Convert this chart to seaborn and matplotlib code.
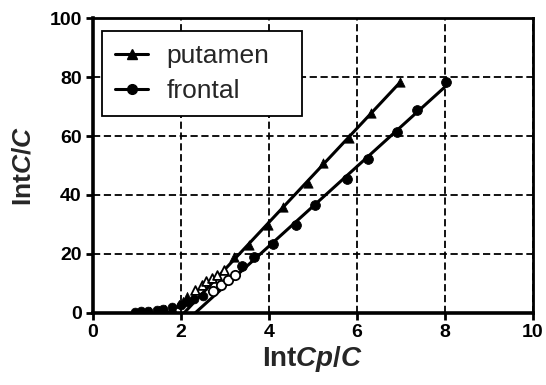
import numpy as np
import pandas as pd
import matplotlib
matplotlib.use("Agg")
import matplotlib.pyplot as plt
import seaborn as sns
from matplotlib.lines import Line2D

# ---- data ----
put_x = [3.20, 3.56, 3.97, 4.33, 4.88, 5.24, 5.81, 6.33, 6.97]
put_y = [18.9, 23.1, 29.7, 36.0, 44.1, 50.7, 59.5, 68.0, 78.3]
put_open_x = [2.32, 2.47, 2.58, 2.71, 2.83, 2.98]
put_open_y = [7.7, 9.5, 10.6, 11.7, 12.9, 14.6]
put_early_x = [1.30, 1.50, 1.65, 1.80, 1.95, 2.05, 2.15]
put_early_y = [0.4, 0.9, 1.4, 2.0, 3.0, 4.0, 5.5]

fro_x = [3.38, 3.67, 4.09, 4.62, 5.05, 5.77, 6.26, 6.91, 7.37, 8.03]
fro_y = [15.7, 18.8, 23.4, 29.8, 36.5, 45.5, 52.3, 61.4, 68.8, 78.5]
fro_open_x = [2.73, 2.92, 3.07, 3.22]
fro_open_y = [7.2, 9.5, 11.2, 12.9]
fro_early_x = [0.95, 1.10, 1.25, 1.45, 1.60, 1.80, 2.00, 2.15, 2.30, 2.50]
fro_early_y = [0.3, 0.4, 0.6, 1.0, 1.3, 1.8, 2.5, 3.5, 4.5, 5.5]

x_ticks = [0, 2, 4, 6, 8, 10]
y_ticks = [0, 20, 40, 60, 80, 100]
series_names = ["putamen", "frontal"]

sns.set_style("ticks")
plt.rcParams['font.family'] = ['Liberation Sans', 'DejaVu Sans']
plt.rcParams['mathtext.fontset'] = 'custom'
plt.rcParams['mathtext.it'] = 'Liberation Sans:italic:bold'
plt.rcParams['mathtext.rm'] = 'Liberation Sans:bold'
plt.rcParams['mathtext.bf'] = 'Liberation Sans:bold'

fig = plt.figure(figsize=(5.46, 3.85), dpi=100)
ax = fig.add_axes([0.170, 0.188, 0.806, 0.764])

# regression lines (fit on the filled linear-phase points)
def fit_line(xs, ys):
    k, b = np.polyfit(xs, ys, 1)
    x0 = -b / k
    lx = [x0, max(xs)]
    ly = [k * v + b for v in lx]
    df = pd.DataFrame({"x": lx, "y": ly})
    sns.lineplot(data=df, x="x", y="y", ax=ax, color="black", lw=2.2,
                 legend=False, zorder=3)

fit_line(put_x, put_y)
fit_line(fro_x, fro_y)

sns.scatterplot(data=pd.DataFrame({"x": put_x, "y": put_y}), x="x", y="y", ax=ax,
                marker="^", s=45, color="black", edgecolor="black", legend=False, zorder=5)
sns.scatterplot(data=pd.DataFrame({"x": fro_x, "y": fro_y}), x="x", y="y", ax=ax,
                marker="o", s=50, color="black", edgecolor="black", legend=False, zorder=5)
sns.scatterplot(data=pd.DataFrame({"x": put_open_x, "y": put_open_y}), x="x", y="y",
                ax=ax, marker="^", s=40, facecolor="white", edgecolor="black",
                linewidth=1.3, legend=False, zorder=4)
sns.scatterplot(data=pd.DataFrame({"x": fro_open_x, "y": fro_open_y}), x="x", y="y",
                ax=ax, marker="o", s=45, facecolor="white", edgecolor="black",
                linewidth=1.3, legend=False, zorder=4)
sns.scatterplot(data=pd.DataFrame({"x": put_early_x, "y": put_early_y}), x="x", y="y",
                ax=ax, marker="^", s=35, color="black", edgecolor="black",
                legend=False, zorder=4)
sns.scatterplot(data=pd.DataFrame({"x": fro_early_x, "y": fro_early_y}), x="x", y="y",
                ax=ax, marker="o", s=40, color="black", edgecolor="black",
                legend=False, zorder=4)

handles = [Line2D([], [], color="black", lw=2.2, marker="^", ms=7),
           Line2D([], [], color="black", lw=2.2, marker="o", ms=7)]
leg = ax.legend(handles, series_names, loc="upper left",
                bbox_to_anchor=(0.021, 0.5, 0.454, 0.457), mode="expand",
                borderaxespad=0, fontsize=19,
                frameon=True, fancybox=False, handlelength=1.25, borderpad=0.5,
                labelspacing=0.4, handletextpad=0.7, framealpha=1)
leg.get_frame().set_edgecolor("black")
leg.get_frame().set_linewidth(1.3)

ax.set_xlim(0, 10)
ax.set_ylim(0, 100)
ax.set_xticks(x_ticks)
ax.set_yticks(y_ticks)
ax.set_xticklabels([str(v) for v in x_ticks], fontsize=14, fontweight="bold")
ax.set_yticklabels([str(v) for v in y_ticks], fontsize=14, fontweight="bold")
ax.grid(True, color="black", linestyle=(0, (4, 2)), linewidth=1.3)
ax.set_axisbelow(True)
for s in ax.spines.values():
    s.set_linewidth(2.0)
    s.set_color("black")
ax.spines["left"].set_linewidth(2.6)
ax.spines["bottom"].set_linewidth(2.6)
ax.tick_params(direction="out", length=5, width=2, colors="black", pad=3)

ax.set_xlabel(r"Int$\mathit{Cp}$/$\mathit{C}$", fontsize=20, fontweight="bold", labelpad=2)
ax.set_ylabel(r"Int$\mathit{C}$/$\mathit{C}$", fontsize=19, fontweight="bold", labelpad=10)

fig.savefig("out.png", dpi=100)
